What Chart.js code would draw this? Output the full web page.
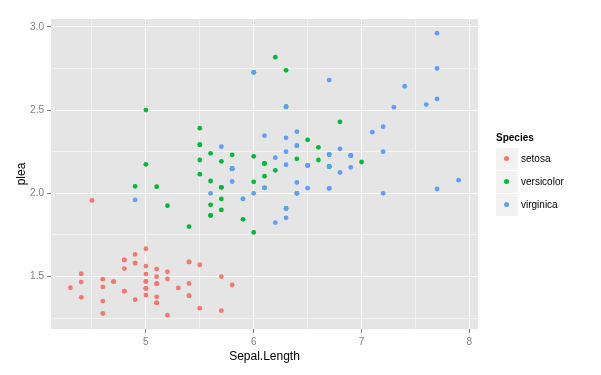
<!DOCTYPE html>
<html>
<head>
<meta charset="utf-8">
<script src="https://cdn.jsdelivr.net/npm/chart.js@4"></script>
<style>
  body { margin: 0; background: #fff; font-family: "Liberation Sans", Arial, sans-serif; }
  #wrap { position: relative; width: 601px; height: 375px; }
  .lg-title { position: absolute; left: 496px; top: 132px; font-size: 10px; font-weight: bold; color: #000; }
  .lg-key { position: absolute; left: 496px; width: 22px; height: 22px; background: #f2f2f2; }
  .lg-dot { position: absolute; left: 8px; top: 8px; width: 5px; height: 5px; border-radius: 50%; }
  .lg-label { position: absolute; left: 521px; font-size: 10px; color: #000; line-height: 22px; }
</style>
</head>
<body>
<div id="wrap">
  <canvas id="chart" width="601" height="375"></canvas>
  <div id="legend"></div>
</div>
<script>
// iris: Sepal.Length against plea, by species
const species = ['setosa', 'versicolor', 'virginica'];
const colors = ['#F8766D', '#00BA38', '#619CFF'];

const setosaX = [5.1,4.9,4.7,4.6,5.0,5.4,4.6,5.0,4.4,4.9,5.4,4.8,4.8,4.3,5.8,5.7,5.4,5.1,5.7,5.1,5.4,5.1,4.6,5.1,4.8,5.0,5.0,5.2,5.2,4.7,4.8,5.4,5.2,5.5,4.9,5.0,5.5,4.9,4.4,5.1,5.0,4.5,4.4,5.0,5.1,4.8,5.1,4.6,5.3,5.0];
const setosaY = [1.457,1.633,1.469,1.484,1.389,1.385,1.353,1.471,1.517,1.581,1.459,1.412,1.600,1.433,1.450,1.295,1.385,1.457,1.500,1.342,1.588,1.378,1.278,1.545,1.412,1.667,1.471,1.486,1.529,1.469,1.548,1.588,1.268,1.310,1.581,1.563,1.571,1.361,1.467,1.500,1.429,1.957,1.375,1.429,1.342,1.600,1.342,1.438,1.432,1.515];

const versicolorX = [7.0,6.4,6.9,5.5,6.5,5.7,6.3,4.9,6.6,5.2,5.0,5.9,6.0,6.1,5.6,6.7,5.6,5.8,6.2,5.6,5.9,6.1,6.3,6.1,6.4,6.6,6.8,6.7,6.0,5.7,5.5,5.5,5.8,6.0,5.4,6.0,6.7,6.3,5.6,5.5,5.5,6.1,5.8,5.0,5.6,5.7,5.7,6.2,5.1,5.7];
const versicolorY = [2.188,2.000,2.226,2.391,2.321,2.036,1.909,2.042,2.276,1.926,2.500,1.967,2.727,2.103,1.931,2.161,1.867,2.148,2.818,2.240,1.844,2.179,2.520,2.179,2.207,2.200,2.429,2.233,2.069,2.192,2.292,2.292,2.148,2.222,1.800,1.765,2.161,2.739,1.867,2.200,2.115,2.033,2.231,2.174,2.074,1.900,1.966,2.138,2.040,2.036];

const virginicaX = [6.3,5.8,7.1,6.3,6.5,7.6,4.9,7.3,6.7,7.2,6.5,6.4,6.8,5.7,5.8,6.4,6.5,7.7,7.7,6.0,6.9,5.6,7.7,6.3,6.7,7.2,6.2,6.1,6.4,7.2,7.4,7.9,6.4,6.3,6.1,7.7,6.3,6.4,6.0,6.9,6.7,6.9,5.8,6.8,6.7,6.7,6.3,6.5,6.2,5.9];
const virginicaY = [1.909,2.148,2.367,2.172,2.167,2.533,1.960,2.517,2.680,2.000,2.031,2.370,2.267,2.280,2.071,2.000,2.167,2.026,2.962,2.727,2.156,2.000,2.750,2.333,2.030,2.250,2.214,2.033,2.286,2.400,2.643,2.079,2.286,2.250,2.346,2.567,1.853,2.065,2.000,2.226,2.161,2.226,2.148,2.125,2.030,2.233,2.520,2.167,1.824,1.967];

const xMajor = [5, 6, 7, 8];
const xMinor = [4.5, 5.5, 6.5, 7.5];
const yMajor = [1.5, 2.0, 2.5, 3.0];
const yMinor = [1.25, 1.75, 2.25, 2.75];
const yLabels = ['1.5', '2.0', '2.5', '3.0'];

const xs = [setosaX, versicolorX, virginicaX];
const ys = [setosaY, versicolorY, virginicaY];

function pairs(a, b) {
    return a.map((v, i) => ({x: v, y: b[i]}));
}

const panelBg = {
    id: 'panelBg',
    beforeDraw(chart) {
        const a = chart.chartArea;
        const ctx = chart.ctx;
        ctx.save();
        ctx.fillStyle = '#e5e5e5';
        ctx.fillRect(a.left, a.top, a.right - a.left, a.bottom - a.top);
        ctx.restore();
    }
};

function gridColor(ctx) {
    return ctx.tick && ctx.tick.major ? '#ffffff' : '#f2f2f2';
}
function tickColor(ctx) {
    return ctx.tick && ctx.tick.major ? '#7f7f7f' : 'rgba(0,0,0,0)';
}

const ctx = document.getElementById('chart').getContext('2d');
new Chart(ctx, {
    type: 'scatter',
    data: {
        datasets: species.map((s, i) => ({
            label: s,
            data: pairs(xs[i], ys[i]),
            backgroundColor: colors[i],
            borderWidth: 0,
            pointRadius: 2.4,
            pointHoverRadius: 2.4,
            order: 3 - i
        }))
    },
    options: {
        responsive: false,
        animation: false,
        events: [],
        layout: { padding: { left: 0, top: 19, right: 123, bottom: 0 } },
        plugins: { legend: { display: false }, tooltip: { enabled: false } },
        scales: {
            x: {
                type: 'linear',
                min: 4.12,
                max: 8.08,
                afterBuildTicks(scale) {
                    scale.ticks = xMinor.concat(xMajor).sort((a, b) => a - b)
                        .map(v => ({value: v, major: xMajor.includes(v)}));
                },
                afterFit(scale) { scale.height = 46; },
                border: { display: false },
                grid: { color: gridColor, lineWidth: 1, tickLength: 4, tickColor: tickColor, tickWidth: 1 },
                ticks: {
                    autoSkip: false,
                    maxRotation: 0,
                    padding: 3,
                    color: '#7f7f7f',
                    font: { family: 'Liberation Sans', size: 10 },
                    callback: v => xMajor.includes(v) ? String(v) : ''
                },
                title: {
                    display: true,
                    text: 'Sepal.Length',
                    color: '#000',
                    font: { family: 'Liberation Sans', size: 12 },
                    padding: { top: 0, bottom: 11 }
                }
            },
            y: {
                type: 'linear',
                min: 1.185,
                max: 3.047,
                afterBuildTicks(scale) {
                    scale.ticks = yMinor.concat(yMajor).sort((a, b) => a - b)
                        .map(v => ({value: v, major: yMajor.includes(v)}));
                },
                afterFit(scale) { scale.width = 51; },
                border: { display: false },
                grid: { color: gridColor, lineWidth: 1, tickLength: 4, tickColor: tickColor, tickWidth: 1 },
                ticks: {
                    autoSkip: false,
                    padding: 3,
                    color: '#7f7f7f',
                    font: { family: 'Liberation Sans', size: 10 },
                    callback: v => {
                        const k = yMajor.indexOf(v);
                        return k >= 0 ? yLabels[k] : '';
                    }
                },
                title: {
                    display: true,
                    text: 'plea',
                    color: '#000',
                    font: { family: 'Liberation Sans', size: 12 },
                    padding: { top: 14.5, bottom: 0 }
                }
            }
        }
    },
    plugins: [panelBg]
});

// legend, ggplot style
const lg = document.getElementById('legend');
let html = '<div class="lg-title">Species</div>';
species.forEach((s, i) => {
    const top = 148 + i * 23;
    html += '<div class="lg-key" style="top:' + top + 'px"><div class="lg-dot" style="background:' + colors[i] + '"></div></div>';
    html += '<div class="lg-label" style="top:' + top + 'px">' + s + '</div>';
});
lg.innerHTML = html;
</script>
</body>
</html>
